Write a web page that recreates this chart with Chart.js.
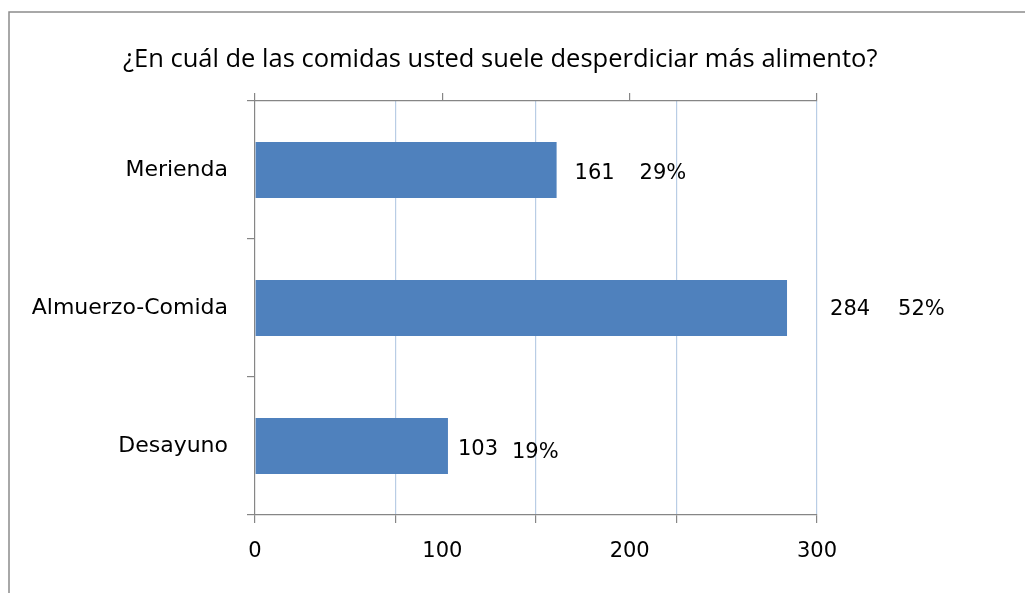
<!DOCTYPE html>
<html>
<head>
<meta charset="utf-8">
<script src="https://cdn.jsdelivr.net/npm/chart.js@4.4.0/dist/chart.umd.min.js"></script>
<style>
  html, body { margin: 0; padding: 0; background: #fff; }
  #wrap { width: 1025px; height: 593px; position: relative; }
</style>
</head>
<body>
<div id="wrap"><canvas id="wasteChart" width="1025" height="593"></canvas></div>
<script>
// chart data
const chartTitle = '¿En cuál de las comidas usted suele desperdiciar más alimento?';
const categories = ['Merienda', 'Almuerzo-Comida', 'Desayuno'];
const values = [161, 284, 103];
const xTickLabels = [0, 100, 200, 300];
const gridValues = [0, 75, 150, 225, 300];

const total = values.reduce((a, b) => a + b, 0);
const percents = values.map(v => Math.round(v / total * 100) + '%');

const axisGray = '#868686';
const gridBlue = '#b9cde5';

// frame + title
const framePlugin = {
  id: 'frame',
  beforeDraw(chart) {
    const ctx = chart.ctx;
    ctx.save();
    ctx.strokeStyle = '#8c8c8c';
    ctx.lineWidth = 1.5;
    ctx.beginPath();
    ctx.moveTo(9, 593);
    ctx.lineTo(9, 12);
    ctx.lineTo(1025, 12);
    ctx.stroke();
    ctx.fillStyle = '#000';
    ctx.font = '25.5px "Open Sans"';
    ctx.textAlign = 'left';
    ctx.textBaseline = 'alphabetic';
    ctx.fillText(chartTitle, 123, 67);
    ctx.restore();
  }
};

// value + percent next to each bar
const barLabels = {
  id: 'barLabels',
  afterDatasetsDraw(chart, args, opts) {
    const ctx = chart.ctx;
    const meta = chart.getDatasetMeta(0);
    ctx.save();
    ctx.fillStyle = '#000';
    ctx.font = '21px "DejaVu Sans"';
    ctx.textAlign = 'left';
    ctx.textBaseline = 'middle';
    meta.data.forEach((bar, i) => {
      const x = bar.x + opts.offsets[i];
      ctx.fillText(String(values[i]), x, bar.y + opts.dy[i]);
      ctx.fillText(percents[i], x + opts.gaps[i], bar.y + opts.dy2[i]);
    });
    ctx.restore();
  }
};

const ctx = document.getElementById('wasteChart').getContext('2d');
const wasteChart = new Chart(ctx, {
  type: 'bar',
  data: {
    labels: categories,
    datasets: [{
      data: values,
      backgroundColor: '#4f81bd',
      borderWidth: 0,
      barPercentage: 0.405,
      categoryPercentage: 1,
      xAxisID: 'x',
      yAxisID: 'y'
    }]
  },
  options: {
    indexAxis: 'y',
    responsive: false,
    animation: false,
    layout: { padding: { top: 93, right: 208, left: 0, bottom: 0 } },
    plugins: {
      legend: { display: false },
      tooltip: { enabled: false },
      barLabels: {
        offsets: [18, 43, 10],
        gaps: [65, 68, 54],
        dy: [4, 2, 4],
        dy2: [4, 2, 7]
      }
    },
    scales: {
      x: {
        type: 'linear',
        position: 'bottom',
        min: 0,
        max: 300,
        afterBuildTicks: s => { s.ticks = gridValues.map(v => ({ value: v })); },
        afterFit: s => { s.height = 8; },
        ticks: { display: false },
        grid: {
          color: c => (c.tick && c.tick.value === 0) ? 'rgba(0,0,0,0)' : gridBlue,
          tickColor: axisGray,
          tickLength: 8,
          lineWidth: 1.2
        },
        border: { color: axisGray, width: 1.2 }
      },
      x2: {
        type: 'linear',
        axis: 'x',
        position: 'bottom',
        min: 0,
        max: 300,
        afterBuildTicks: s => { s.ticks = xTickLabels.map(v => ({ value: v })); },
        afterFit: s => { s.height = 70; },
        ticks: {
          color: '#000',
          font: { family: 'DejaVu Sans', size: 21 },
          padding: 16,
          maxRotation: 0
        },
        grid: { display: false, drawTicks: false },
        border: { display: false }
      },
      x3: {
        type: 'linear',
        axis: 'x',
        position: 'top',
        min: 0,
        max: 300,
        afterBuildTicks: s => { s.ticks = xTickLabels.map(v => ({ value: v })); },
        afterFit: s => { s.height = 8; },
        ticks: { display: false },
        grid: {
          drawOnChartArea: false,
          tickColor: axisGray,
          tickLength: 8,
          lineWidth: 1.2
        },
        border: { color: axisGray, width: 1.2 }
      },
      y: {
        type: 'category',
        position: 'left',
        offset: true,
        afterFit: s => { s.width = 255; },
        ticks: {
          color: '#000',
          font: { family: 'DejaVu Sans', size: 22 },
          padding: 19
        },
        grid: {
          offset: true,
          drawOnChartArea: false,
          tickColor: axisGray,
          tickLength: 8,
          lineWidth: 1.2
        },
        border: { color: axisGray, width: 1.2 }
      }
    }
  },
  plugins: [framePlugin, barLabels]
});
</script>
</body>
</html>
